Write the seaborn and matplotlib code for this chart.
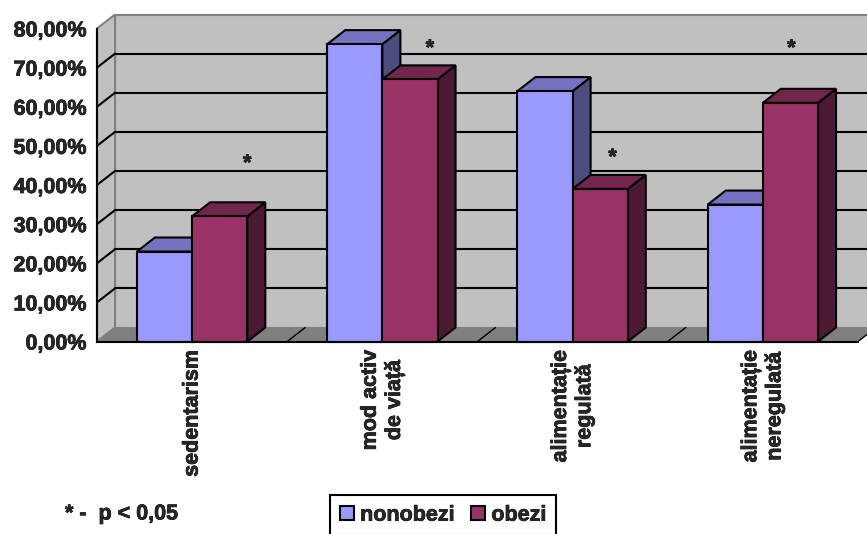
import matplotlib
matplotlib.use("Agg")
import matplotlib.pyplot as plt
import matplotlib.patheffects as pe
from matplotlib.patches import Polygon, Patch
import pandas as pd
import seaborn as sns

# data
categories = ["sedentarism", "mod activ\nde viață", "alimentație\nregulată", "alimentație\nneregulată"]
groups = ["nonobezi", "obezi"]
nonobezi = [23, 76, 64, 35]
obezi = [32, 67, 39, 61]
yticks = [0, 10, 20, 30, 40, 50, 60, 70, 80]
# significance marks (category units, percent)
star_x = [0.29, 1.25, 2.21, 3.15]
star_y = [47, 76.4, 48.5, 76.4]

front = {"nonobezi": "#9999FF", "obezi": "#993366"}
top_col = {"nonobezi": "#7373BF", "obezi": "#73264C"}
side_col = {"nonobezi": "#4D4D80", "obezi": "#4D1A33"}

sns.set_style("white")
plt.rcParams["font.family"] = ["Liberation Sans", "DejaVu Sans"]
plt.rcParams["font.weight"] = "bold"
FS = 15.5
heavy = [pe.withStroke(linewidth=0.5, foreground="black")]

W, H = 867, 534
fig = plt.figure(figsize=(W / 100, H / 100), dpi=100)
x_left, x_right, y_bot, y_top = 97, 858, 341.5, 28.5
ax = fig.add_axes([x_left / W, (H - y_bot) / H, (x_right - x_left) / W, (y_bot - y_top) / H])
ax.patch.set_visible(False)

df = pd.DataFrame({
    "categorie": categories * 2,
    "grup": ["nonobezi"] * 4 + ["obezi"] * 4,
    "procent": nonobezi + obezi,
})
sns.barplot(data=df, x="categorie", y="procent", hue="grup", order=categories,
            hue_order=groups, palette=front, width=0.58, saturation=1,
            edgecolor="black", linewidth=1.5, legend=False, ax=ax)

ax.set_xlim(-0.5, 3.5)
ax.set_ylim(0, 80)
# depth of the fake 3d effect, in data units
dx = 18 / ((x_right - x_left) / 4)
dy = 14 / ((y_bot - y_top) / 80)
xr = 4.2

# walls and floor
ax.add_patch(Polygon([(-0.5 + dx, dy), (xr, dy), (xr, 80 + dy), (-0.5 + dx, 80 + dy)],
                     fc="#C0C0C0", ec="#808080", lw=1.5, clip_on=False, zorder=0))
ax.add_patch(Polygon([(-0.5, 0), (-0.5 + dx, dy), (-0.5 + dx, 80 + dy), (-0.5, 80)],
                     fc="#C0C0C0", ec="#808080", lw=1.5, clip_on=False, zorder=0.5))
ax.add_patch(Polygon([(-0.5, 0), (3.5, 0), (3.5 + dx, dy), (-0.5 + dx, dy)],
                     fc="#808080", ec="none", clip_on=False, zorder=0.6))
ax.add_patch(Polygon([(3.5, 0), (xr, 0), (xr, dy), (3.5 + dx, dy)],
                     fc="white", ec="none", clip_on=False, zorder=0.6))
for v in yticks[1:-1]:
    ax.plot([-0.5 + dx, xr], [v + dy, v + dy], color="black", lw=1.5, clip_on=False, zorder=1)
    ax.plot([-0.5, -0.5 + dx], [v, v + dy], color="black", lw=1.5, clip_on=False, zorder=1)
for b in [0.5, 1.5, 2.5, 3.5]:
    ax.plot([b, b + dx], [0, dy], color="black", lw=1, clip_on=False, zorder=0.7)

# 3d faces of the bars
for i, g in enumerate(groups):
    z = 3 + 2 * i
    for p in ax.containers[i]:
        x0, w, h = p.get_x(), p.get_width(), p.get_height()
        p.set_zorder(z)
        p.set_clip_on(False)
        ax.add_patch(Polygon([(x0 + w, 0), (x0 + w + dx, dy), (x0 + w + dx, h + dy), (x0 + w, h)],
                             fc=side_col[g], ec="black", lw=1.5, clip_on=False, zorder=z - 0.5))
        ax.add_patch(Polygon([(x0, h), (x0 + dx, h + dy), (x0 + w + dx, h + dy), (x0 + w, h)],
                             fc=top_col[g], ec="black", lw=1.5, clip_on=False, zorder=z - 0.5))

for sx, sy in zip(star_x, star_y):
    ax.text(sx, sy - 3, "*", ha="center", va="baseline", fontsize=FS, fontweight="bold",
            zorder=8, path_effects=heavy)

for s in ["top", "right"]:
    ax.spines[s].set_visible(False)
for s in ["left", "bottom"]:
    ax.spines[s].set_color("black")
    ax.spines[s].set_linewidth(1.5)
    ax.spines[s].set_zorder(7)

ax.set_yticks(yticks)
ax.set_yticklabels([f"{v:.2f}%".replace(".", ",") for v in yticks])
ax.tick_params(axis="y", direction="out", length=4.5, width=1.5, pad=3, color="black")
ax.set_xticks(range(len(categories)))
ax.set_xticklabels(categories, rotation=90, va="top", ha="center", ma="center")
ax.set_xticks([-0.5, 0.5, 1.5, 2.5, 3.5], minor=True)
ax.tick_params(axis="x", which="major", length=0, pad=6)
ax.tick_params(axis="x", which="minor", direction="out", length=4.5, width=1.5, color="black")
ax.set_xlabel("")
ax.set_ylabel("")
plt.setp(ax.get_xticklabels() + ax.get_yticklabels(), fontsize=FS, fontweight="bold",
         family=["Liberation Sans", "DejaVu Sans"], path_effects=heavy)

fig.text(65 / W, 1 - 514 / H, "* -  p < 0,05", ha="left", va="center", fontsize=FS,
         fontweight="bold", path_effects=heavy)

handles = [Patch(fc=front[g], ec="black", lw=1.5, label=g) for g in groups]
leg = fig.legend(handles=handles, loc="upper left", bbox_to_anchor=(330 / W, 1 - 495 / H),
                 ncol=2, frameon=True, fancybox=False, edgecolor="black", framealpha=1,
                 handlelength=0.65, handleheight=0.65, handletextpad=0.3, columnspacing=0.75,
                 borderpad=0.45, borderaxespad=0, prop={"size": FS, "weight": "bold"})
leg.get_frame().set_linewidth(1.5)
plt.setp(leg.get_texts(), fontweight="bold", family=["Liberation Sans", "DejaVu Sans"],
         path_effects=heavy)

fig.savefig("out.png", dpi=100)
